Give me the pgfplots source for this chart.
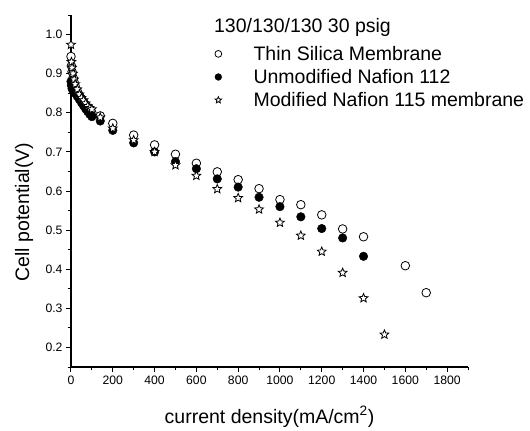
\documentclass[border=0pt]{standalone}
\usepackage{fontspec}
\setmainfont{Liberation Sans}
\usepackage{pgfplots}
\pgfplotsset{compat=1.18}
\usetikzlibrary{plotmarks}

% open five-pointed star mark
\pgfdeclareplotmark{ostar}{%
  \pgfpathmoveto{\pgfpointpolar{90}{\pgfplotmarksize}}%
  \pgfpathlineto{\pgfpointpolar{126}{0.45\pgfplotmarksize}}%
  \pgfpathlineto{\pgfpointpolar{162}{\pgfplotmarksize}}%
  \pgfpathlineto{\pgfpointpolar{198}{0.45\pgfplotmarksize}}%
  \pgfpathlineto{\pgfpointpolar{234}{\pgfplotmarksize}}%
  \pgfpathlineto{\pgfpointpolar{270}{0.45\pgfplotmarksize}}%
  \pgfpathlineto{\pgfpointpolar{306}{\pgfplotmarksize}}%
  \pgfpathlineto{\pgfpointpolar{342}{0.45\pgfplotmarksize}}%
  \pgfpathlineto{\pgfpointpolar{18}{\pgfplotmarksize}}%
  \pgfpathlineto{\pgfpointpolar{54}{0.45\pgfplotmarksize}}%
  \pgfpathclose
  \pgfusepathqfillstroke
}

\begin{document}
\begin{tikzpicture}
\begin{axis}[
  scale only axis, width=397bp, height=352bp,
  xmin=0, xmax=1900, ymin=0.15, ymax=1.05,
  axis x line*=bottom, axis y line*=left,
  axis line style={line width=1.1bp,-},
  tick align=outside,
  xtick={0,200,400,600,800,1000,1200,1400,1600,1800},
  minor xtick={100,300,500,700,900,1100,1300,1500,1700,1900},
  ytick={0.2,0.3,0.4,0.5,0.6,0.7,0.8,0.9,1.0},
  minor ytick={0.15,0.25,0.35,0.45,0.55,0.65,0.75,0.85,0.95,1.05},
  major tick length=5bp, minor tick length=3bp,
  every tick/.style={black, line width=1bp},
  ticklabel style={font=\fontsize{12.2bp}{14bp}\selectfont},
  /pgf/number format/assume math mode=true,
  yticklabel style={/pgf/number format/fixed, /pgf/number format/fixed zerofill, /pgf/number format/precision=1},
  xticklabel style={/pgf/number format/1000 sep={}},
  xlabel={current density(mA/cm\textsuperscript{2})},
  ylabel={Cell potential(V)},
  label style={font=\fontsize{19.5bp}{23bp}\selectfont},
  xlabel style={at={(axis description cs:0.5,-0.142)}, anchor=center},
  ylabel style={at={(axis description cs:-0.118,0.44)}, anchor=center},
  clip=false,
  legend style={at={(axis description cs:0.355,0.918)}, anchor=north west, draw=none, fill=none,
    font=\fontsize{19.5bp}{23bp}\selectfont, inner sep=0pt, row sep=3.5bp},
  legend cell align=left,
  legend image code/.code={\draw[mark repeat=2,mark phase=2,#1,mark size=3.4bp] plot coordinates {(0bp,0bp)(6bp,0bp)(12bp,0bp)}; \path (0bp,0bp) (39bp,0bp);},
]
\addplot[only marks, mark=*, mark size=4.3bp, mark options={fill=white, draw=black, line width=0.8bp}] coordinates {
(0,0.944) (2,0.92) (5,0.905) (10,0.89) (15,0.878) (20,0.868) (30,0.855) (40,0.845) (50,0.836)
(60,0.828) (70,0.82) (80,0.813) (90,0.807) (100,0.80) (140,0.792) (200,0.773) (300,0.743)
(400,0.718) (500,0.694) (600,0.671) (700,0.649) (800,0.629) (900,0.606) (1000,0.578)
(1100,0.565) (1200,0.539) (1300,0.503) (1400,0.483) (1600,0.409) (1700,0.340)};
\addlegendentry{Thin Silica Membrane}
\addplot[only marks, mark=*, mark size=4.3bp, mark options={fill=black, draw=black}] coordinates {
(0,0.88) (2,0.87) (5,0.862) (10,0.857) (15,0.853) (20,0.85) (30,0.842) (40,0.834) (50,0.826)
(60,0.818) (70,0.81) (80,0.803) (90,0.796) (100,0.79) (140,0.779) (200,0.755) (300,0.723)
(400,0.700) (500,0.675) (600,0.657) (700,0.631) (800,0.610) (900,0.584) (1000,0.560)
(1100,0.534) (1200,0.504) (1300,0.480) (1400,0.433)};
\addlegendentry{Unmodified Nafion 112}
\addplot[only marks, mark=ostar, mark size=4.6bp, mark options={fill=white, draw=black, line width=0.8bp}] coordinates {
(0,0.974) (2,0.93) (5,0.915) (10,0.9) (15,0.885) (20,0.873) (30,0.86) (40,0.847) (50,0.838)
(60,0.832) (70,0.824) (80,0.817) (90,0.812) (100,0.809) (140,0.788) (200,0.760) (300,0.730)
(400,0.700) (500,0.666) (600,0.639) (700,0.605) (800,0.582) (900,0.553) (1000,0.519)
(1100,0.486) (1200,0.445) (1300,0.391) (1400,0.326) (1500,0.233)};
\addlegendentry{Modified Nafion 115 membrane}
\node[anchor=base west, font=\fontsize{19.5bp}{23bp}\selectfont, inner sep=0pt] at (axis description cs:0.36,0.949) {130/130/130 30 psig};
\end{axis}
\path (current axis.south west) ++(-71bp,-63bp) rectangle ++(530bp,430bp);
\end{tikzpicture}
\end{document}
